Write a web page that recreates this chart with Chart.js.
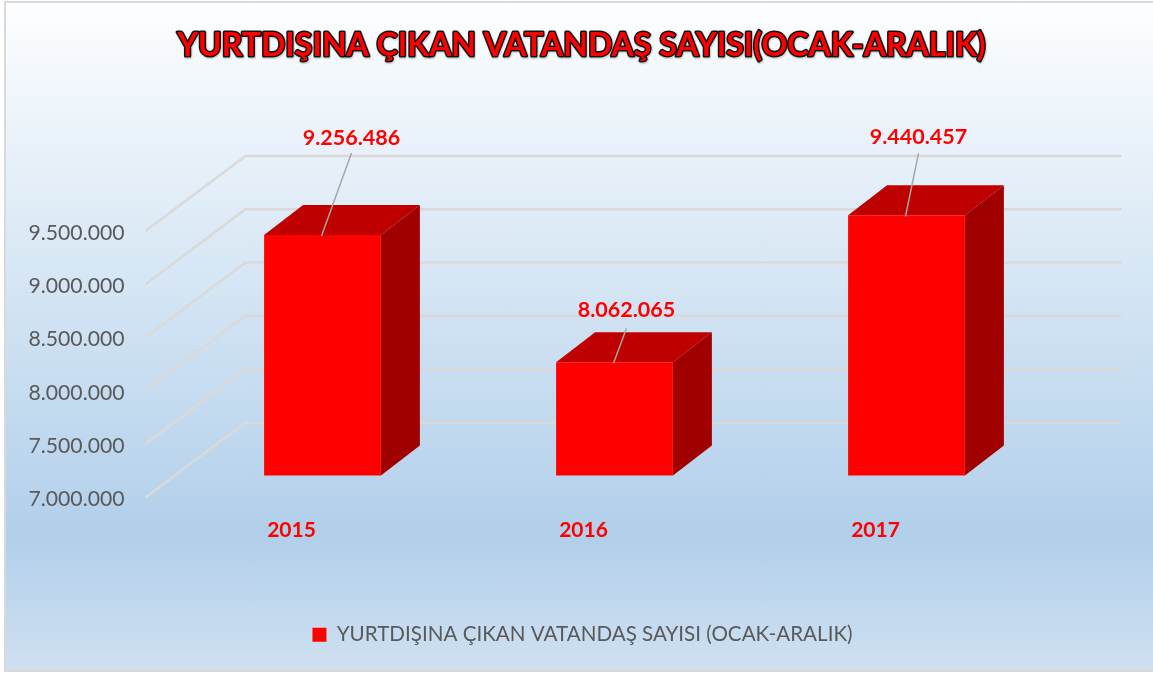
<!DOCTYPE html>
<html>
<head>
<meta charset="utf-8">
<title>Yurtdışına Çıkan Vatandaş Sayısı</title>
<script src="https://cdn.jsdelivr.net/npm/chart.js@4/dist/chart.umd.min.js"></script>
<style>
    html, body { margin: 0; padding: 0; background: #fff; }
    #frame {
        position: absolute; left: 4px; top: 1px; width: 1149px; height: 671px;
        box-sizing: border-box; border: 2px solid #d9d9d9; border-right: none;
        background: linear-gradient(180deg, #fdfeff 0%, #b1cfea 80%, #cfe0f1 100%);
    }
    #wrap { position: absolute; left: 0; top: 0; width: 1153px; height: 675px; }
</style>
</head>
<body>
<div id="frame"></div>
<div id="wrap"><canvas id="chart" width="1153" height="675"></canvas></div>
<script>
// --- Data ---
const categories = ['2015', '2016', '2017'];
const passengers = [9256486, 8062065, 9440457];
const seriesName = 'YURTDIŞINA ÇIKAN VATANDAŞ SAYISI (OCAK-ARALIK)';
const chartTitle = 'YURTDIŞINA ÇIKAN VATANDAŞ SAYISI(OCAK-ARALIK)';
const yMin = 7000000;
const yMax = 9500000;
const yStep = 500000;

// --- 3D look ---
const wallDepth = { x: 99, y: -75 };
const barShift = { x: 30, y: -22 };
const barDepth = { x: 39, y: -30 };
// label centre and leader end, relative to the top centre of each bar front
const labelOffsets = [
    { x: 29, y: -97, lineY: -82 },
    { x: 12, y: -52, lineY: -34 },
    { x: 12, y: -78, lineY: -62 }
];

const formatDots = v => String(v).replace(/\B(?=(\d{3})+$)/g, '.');

function poly(ctx, pts, color) {
    ctx.fillStyle = color;
    ctx.beginPath();
    pts.forEach((p, i) => i ? ctx.lineTo(p[0], p[1]) : ctx.moveTo(p[0], p[1]));
    ctx.closePath();
    ctx.fill();
}

// moves a scale's tick labels by a few pixels, Lato sits higher than the original font
function nudgeLabels(scale, dx, dy) {
    if (scale.nudged) return;
    scale.nudged = true;
    const drawLabels = scale.drawLabels;
    scale.drawLabels = function (area) {
        this.ctx.save();
        this.ctx.translate(dx, dy);
        drawLabels.call(this, area);
        this.ctx.restore();
    };
}

const walls = {
    id: 'walls',
    beforeDatasetsDraw(chart) {
        const { ctx, chartArea, scales: { y } } = chart;
        ctx.save();
        ctx.strokeStyle = '#d9d9d9';
        ctx.lineWidth = 2.5;
        y.ticks.forEach(t => {
            const py = y.getPixelForValue(t.value);
            ctx.beginPath();
            ctx.moveTo(chartArea.left - 1, py);
            ctx.lineTo(chartArea.left + wallDepth.x, py + wallDepth.y);
            ctx.lineTo(chartArea.right + wallDepth.x, py + wallDepth.y);
            ctx.stroke();
        });
        ctx.restore();
    }
};

const bars3d = {
    id: 'bars3d',
    beforeDatasetDraw(chart, args) {
        const { ctx } = chart;
        ctx.save();
        args.meta.data.forEach(bar => {
            const l = bar.x - bar.width / 2 + barShift.x;
            const r = bar.x + bar.width / 2 + barShift.x;
            const t = bar.y + barShift.y;
            const b = bar.base + barShift.y;
            poly(ctx, [[l, t], [r, t], [r + barDepth.x, t + barDepth.y], [l + barDepth.x, t + barDepth.y]], '#bf0000');
            poly(ctx, [[r, t], [r + barDepth.x, t + barDepth.y], [r + barDepth.x, b + barDepth.y], [r, b]], '#a00000');
        });
        ctx.translate(barShift.x, barShift.y);
    },
    afterDatasetDraw(chart, args) {
        const { ctx } = chart;
        ctx.restore();
        ctx.save();
        args.meta.data.forEach((bar, i) => {
            const off = labelOffsets[i];
            const cx = bar.x + barShift.x;
            const cy = bar.y + barShift.y;
            ctx.strokeStyle = '#a6a6a6';
            ctx.lineWidth = 1.5;
            ctx.beginPath();
            ctx.moveTo(cx - 1, cy + 1);
            ctx.lineTo(cx + off.x, cy + off.lineY);
            ctx.stroke();
            ctx.fillStyle = '#ff0000';
            ctx.font = 'bold 21.5px Lato';
            ctx.textAlign = 'center';
            ctx.textBaseline = 'middle';
            ctx.fillText(formatDots(passengers[i]), cx + off.x, cy + off.y);
        });
        ctx.restore();
    }
};

const outlinedTitle = {
    id: 'outlinedTitle',
    afterDraw(chart) {
        const { ctx } = chart;
        ctx.save();
        ctx.font = 'bold 32px Lato';
        ctx.textAlign = 'center';
        ctx.textBaseline = 'middle';
        ctx.lineJoin = 'round';
        ctx.strokeStyle = 'rgba(120,120,120,0.25)';
        ctx.lineWidth = 4.5;
        ctx.strokeText(chartTitle, 582, 47);
        ctx.strokeStyle = '#111';
        ctx.lineWidth = 3;
        ctx.strokeText(chartTitle, 581.5, 46);
        ctx.fillStyle = '#ff0000';
        ctx.fillText(chartTitle, 581.5, 46);
        ctx.restore();
    }
};

new Chart(document.getElementById('chart').getContext('2d'), {
    type: 'bar',
    data: {
        labels: categories,
        datasets: [{
            label: seriesName,
            data: passengers,
            base: yMin,
            backgroundColor: '#ff0000',
            borderWidth: 0,
            categoryPercentage: 1,
            barPercentage: 0.4,
            clip: false
        }]
    },
    options: {
        responsive: false,
        animation: false,
        layout: { padding: { left: 12, right: 0, top: 231, bottom: 20 } },
        plugins: {
            title: { display: false },
            tooltip: { enabled: false },
            legend: {
                position: 'bottom',
                labels: {
                    boxWidth: 14, boxHeight: 14, padding: 6,
                    color: '#595959',
                    font: { family: 'Lato', size: 20.6 }
                }
            }
        },
        scales: {
            x: {
                grid: { display: false, drawTicks: false },
                border: { display: false },
                ticks: { color: '#ff0000', padding: 20, font: { family: 'Lato', size: 21, weight: 'bold' } },
                afterFit: s => { s.height = 121; nudgeLabels(s, -1, 0); }
            },
            y: {
                min: yMin,
                max: yMax,
                grid: { display: false, drawTicks: false },
                border: { display: false },
                ticks: {
                    stepSize: yStep,
                    color: '#595959',
                    padding: 22,
                    font: { family: 'Lato', size: 21.2 },
                    callback: v => formatDots(v)
                },
                afterFit: s => { s.width = 134.5; nudgeLabels(s, 0, 2); }
            },
            // empty axis, only keeps the plot clear of the back wall on the right
            spacer: {
                position: 'right',
                grid: { display: false, drawTicks: false },
                border: { display: false },
                ticks: { display: false },
                afterFit: s => { s.width = 130.5; }
            }
        }
    },
    plugins: [walls, bars3d, outlinedTitle]
});
</script>
</body>
</html>
